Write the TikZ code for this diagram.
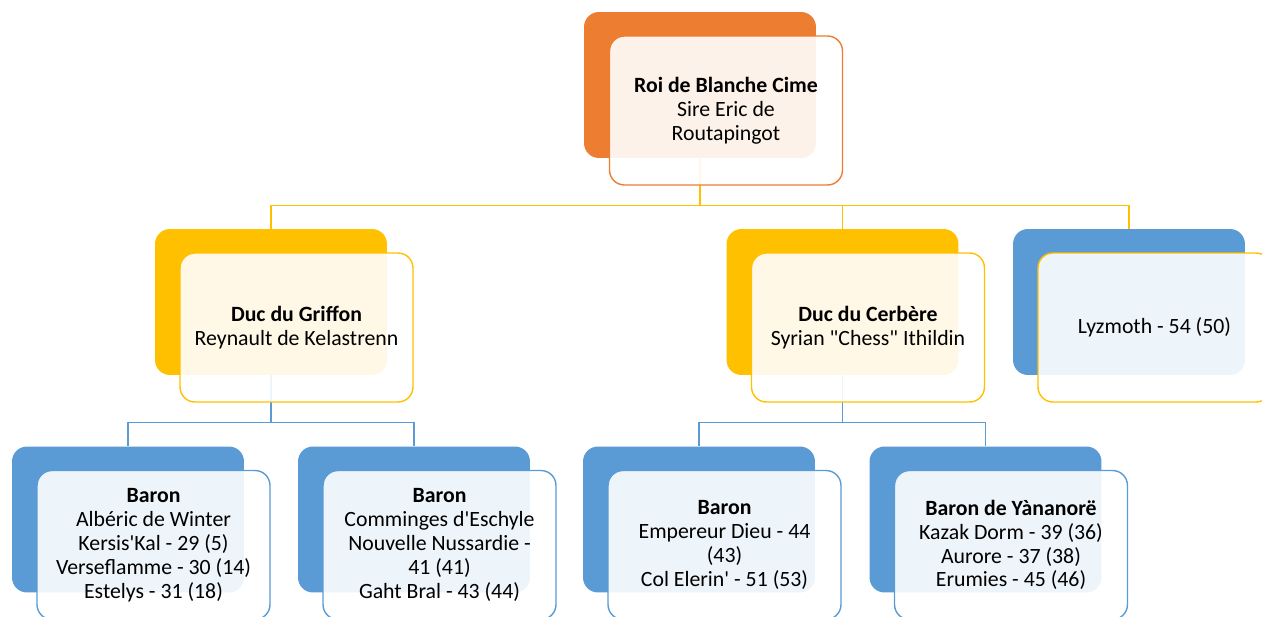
\documentclass[tikz,border=0pt]{standalone}
\usepackage{fontspec}
\setmainfont{Carlito}[Ligatures=TeXOff]
\definecolor{kingorange}{HTML}{ED7D31}
\definecolor{dukegold}{HTML}{FFC000}
\definecolor{baronblue}{HTML}{5B9BD5}
\tikzset{
  backbox/.style={rectangle, rounded corners=8.5pt, fill=#1,
    minimum width=4.64cm, minimum height=2.92cm, inner sep=0pt},
  frontbox/.style={rectangle, rounded corners=8.5pt, draw=#1, line width=0.8pt,
    fill=white, fill opacity=0.9, text opacity=1, align=center,
    minimum width=4.66cm, minimum height=2.98cm, inner sep=2pt,
    font=\fontsize{12.4}{13.6}\selectfont},
  yline/.style={dukegold, line width=0.8pt},
  bline/.style={baronblue, line width=0.8pt}
}
\begin{document}
\begin{tikzpicture}[x=0.02cm, y=-0.02cm]
    \useasboundingbox (0, 0) rectangle (1262, 616);
    % back boxes
    \node[backbox=kingorange] (roi-b) at (700, 85) {};
    \node[backbox=dukegold] (griffon-b) at (271, 302) {};
    \node[backbox=dukegold] (cerbere-b) at (842.5, 302) {};
    \node[backbox=baronblue] (lyzmoth-b) at (1129, 302) {};
    \node[backbox=baronblue] (winter-b) at (128, 519.5) {};
    \node[backbox=baronblue] (eschyle-b) at (414, 519.5) {};
    \node[backbox=baronblue] (dieu-b) at (699, 519.5) {};
    \node[backbox=baronblue] (yanan-b) at (985.5, 519.5) {};
    % connectors
    \draw[yline] (roi-b.south) -- ++(0, 47) coordinate (roi-j);
    \draw[yline] (roi-j) -| (griffon-b.north);
    \draw[yline] (roi-j) -| (cerbere-b.north);
    \draw[yline] (roi-j) -| (lyzmoth-b.north);
    \draw[bline] (griffon-b.south) -- ++(0, 47) coordinate (griffon-j);
    \draw[bline] (griffon-j) -| (winter-b.north);
    \draw[bline] (griffon-j) -| (eschyle-b.north);
    \draw[bline] (cerbere-b.south) -- ++(0, 47) coordinate (cerbere-j);
    \draw[bline] (cerbere-j) -| (dieu-b.north);
    \draw[bline] (cerbere-j) -| (yanan-b.north);
    % front boxes
    \node[frontbox=kingorange] (roi) at (726, 110.5)
      {\textbf{Roi de Blanche Cime}\\Sire Eric de\\Routapingot};
    \node[frontbox=dukegold] (griffon) at (296.5, 327.5)
      {\textbf{Duc du Griffon}\\Reynault de Kelastrenn};
    \node[frontbox=dukegold] (cerbere) at (868, 327.5)
      {\textbf{Duc du Cerbère}\\Syrian "Chess" Ithildin};
    \node[frontbox=dukegold] (lyzmoth) at (1154.5, 327.5) {Lyzmoth - 54 (50)};
    \node[frontbox=baronblue] (winter) at (153.5, 545)
      {\textbf{Baron}\\Albéric de Winter\\Kersis'Kal - 29 (5)\\Verseflamme - 30 (14)\\Estelys - 31 (18)};
    \node[frontbox=baronblue] (eschyle) at (439.5, 545)
      {\textbf{Baron}\\Comminges d'Eschyle\\Nouvelle Nussardie -\\41 (41)\\Gaht Bral - 43 (44)};
    \node[frontbox=baronblue] (dieu) at (724.5, 545)
      {\textbf{Baron}\\Empereur Dieu - 44\\(43)\\Col Elerin' - 51 (53)};
    \node[frontbox=baronblue] (yanan) at (1011, 545)
      {\textbf{Baron de Yànanorë}\\Kazak Dorm - 39 (36)\\Aurore - 37 (38)\\Erumies - 45 (46)};
  \end{tikzpicture}
\end{document}
